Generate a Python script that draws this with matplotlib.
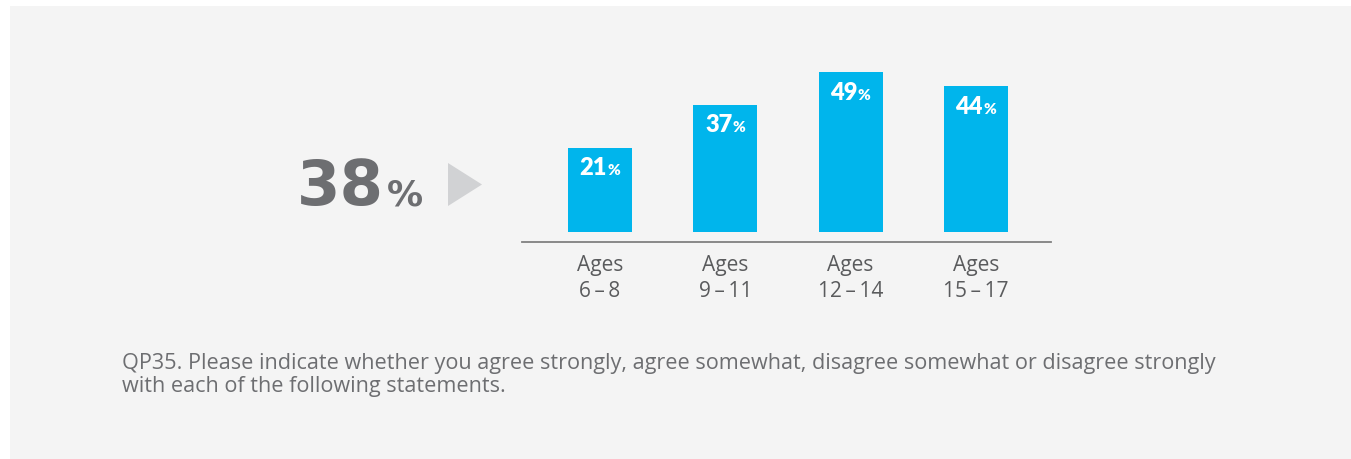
import matplotlib
matplotlib.use("Agg")
import matplotlib.pyplot as plt
from matplotlib.patches import Rectangle, Polygon

categories = ["Ages\n6\u2009\u2013\u20098", "Ages\n9\u2009\u2013\u200911",
              "Ages\n12\u2009\u2013\u200914", "Ages\n15\u2009\u2013\u200917"]
values = [21, 37, 49, 44]
overall_value = 38
footnote = ("QP35. Please indicate whether you agree strongly, agree somewhat, disagree somewhat or disagree strongly\n"
            "with each of the following statements.")

W, H, DPI = 1351, 459, 100
fig = plt.figure(figsize=(W / DPI, H / DPI), dpi=DPI)
fig.patch.set_facecolor("white")

# gray panel
fig.patches.append(Rectangle((10 / W, 0), 1 - 10 / W, 1 - 6 / H, transform=fig.transFigure,
                             facecolor="#f4f4f4", edgecolor="none", zorder=-5))

FONT = ["Lato", "DejaVu Sans"]
BODY = ["Open Sans", "DejaVu Sans"]
BIG = ["DejaVu Sans"]
BAR = "#00b5ec"
GRAY = "#6d6e71"
LABEL = "#5a5b5d"

base = -10.5
ymin = -14.2
ymax = 55
px_per = 2.683
ax_h = (ymax - ymin) * px_per
ax = fig.add_axes([522 / W, 1 - 242 / H, (1051 - 522) / W, ax_h / H])
ax.set_zorder(2)
ax.set_facecolor("none")
x = list(range(len(values)))
ax.bar(x, [v - base for v in values], bottom=base, width=0.51, color=BAR, zorder=2)
ax.set_xlim(-0.623, 3.6)
ax.set_ylim(ymin, ymax)
for s in ["top", "right", "left"]:
    ax.spines[s].set_visible(False)
ax.spines["bottom"].set_color("#808080")
ax.spines["bottom"].set_linewidth(1.3)
ax.set_yticks([])
ax.set_xticks(x)
ax.set_xticklabels(categories, fontsize=15, color=LABEL, family=BODY, linespacing=1.32)
ax.tick_params(axis="x", length=0, pad=9)

for xi, v in zip(x, values):
    ax.annotate(f"{v}", xy=(xi, v), xytext=(5, -20), textcoords="offset points",
                ha="right", va="baseline", fontsize=17, fontweight="heavy",
                color="white", family=FONT, zorder=3)
    ax.annotate("%", xy=(xi, v), xytext=(5.3, -20), textcoords="offset points",
                ha="left", va="baseline", fontsize=11, fontweight="heavy",
                color="white", family=FONT, zorder=3)

# big overall number
fig.text(384 / W, 1 - 205 / H, f"{overall_value}", ha="right", va="baseline",
         fontsize=45, fontweight="bold", color=GRAY, family=BIG)
fig.text(387 / W, 1 - 205 / H, "%", ha="left", va="baseline",
         fontsize=26, fontweight="bold", color=GRAY, family=BIG)
fig.patches.append(Polygon([(448 / W, 1 - 163 / H), (448 / W, 1 - 206 / H), (482 / W, 1 - 184.5 / H)],
                           closed=True, transform=fig.transFigure, facecolor="#d1d2d4",
                           edgecolor="none", zorder=1))

fig.text(122 / W, 1 - 392 / H, footnote, ha="left", va="baseline", fontsize=15.6,
         color=GRAY, family=BODY, linespacing=1.13)

fig.savefig("out.png", dpi=DPI, facecolor=fig.get_facecolor())
